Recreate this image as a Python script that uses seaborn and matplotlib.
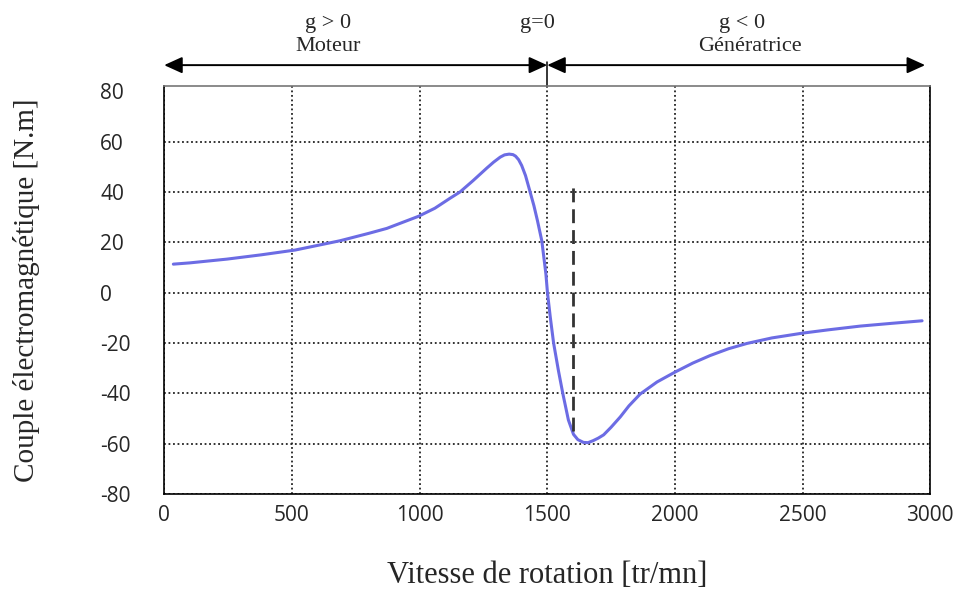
import matplotlib
matplotlib.use("Agg")
import matplotlib.pyplot as plt
import seaborn as sns

# courbe couple / vitesse
speed = [36, 100, 246, 380, 513, 689, 800, 872, 996, 1060, 1120, 1159, 1210, 1264,
         1290, 1316, 1333, 1351, 1366, 1376, 1388, 1400, 1415, 1433, 1448, 1462,
         1479, 1495, 1501, 1512, 1525, 1544, 1561, 1583, 1603, 1620, 1642, 1660,
         1680, 1700, 1721, 1750, 1786, 1820, 1864, 1930, 2000, 2070, 2138, 2210,
         2282, 2380, 2500, 2600, 2726, 2850, 2968]
torque = [11.3, 11.8, 13.3, 15, 16.9, 20.6, 23.5, 25.5, 30.3, 33.5, 37.5, 40, 44.5,
          49.5, 51.8, 53.8, 54.7, 55, 54.8, 54.2, 52.8, 50.5, 46.5, 40, 34.5, 28.5,
          20.5, 7.3, 0, -9.7, -20, -31, -40, -50.6, -56.3, -58.4, -59.5, -59.6,
          -58.8, -57.8, -56.5, -53.5, -49.4, -45, -40.3, -35.5, -31.6, -28, -25,
          -22.3, -20.2, -18, -16.1, -14.8, -13.3, -12.2, -11.2]

x_ticks = [0, 500, 1000, 1500, 2000, 2500, 3000]
y_ticks = [-80, -60, -40, -20, 0, 20, 40, 60, 80]

# zones de fonctionnement (fleches du haut)
regime_edges = [0, 1500, 2980]
regime_top = ["g > 0", "g=0", "g < 0"]
regime_name = ["Moteur", "Génératrice"]

# vitesse de la ligne pointillée
dash_speed = 1600
dash_range = [-55, 43]

sns.set_style("white")
plt.rcParams["font.family"] = ["Open Sans", "DejaVu Sans"]
plt.rcParams["axes.unicode_minus"] = False
serif = ["Liberation Serif", "DejaVu Serif"]

fig = plt.figure(figsize=(9.6, 5.92), dpi=100)
ax = fig.add_axes([0.171, 0.1655, 0.798, 0.689])

sns.lineplot(x=speed, y=torque, ax=ax, color="#6c6ce4", linewidth=2.2)

ax.vlines(dash_speed, dash_range[0], dash_range[1], colors="#333333",
          linewidth=2.0, linestyles=(0, (5, 2.5)), zorder=4)

ax.set_xlim(0, 3000)
ax.set_ylim(-80, 82)
ax.set_xticks(x_ticks)
ax.set_yticks(y_ticks)
ax.tick_params(axis="both", length=0, labelsize=15)
ax.tick_params(axis="x", pad=8)
ax.tick_params(axis="y", pad=46)
for lab in ax.get_yticklabels():
    lab.set_horizontalalignment("left")

ax.grid(True, color="#222222", linestyle=(0, (1, 1.5)), linewidth=1.3)
ax.yaxis.get_gridlines()[-1].set_visible(False)
for s in ax.spines.values():
    s.set_color("black")
    s.set_linewidth(1.2)
ax.spines["top"].set_color("#777777")

ax.set_xlabel("Vitesse de rotation [tr/mn]", family=serif, fontsize=22)
ax.set_ylabel("Couple électromagnétique [N.m]", family=serif, fontsize=21)
ax.xaxis.set_label_coords(0.5, -0.165)
ax.yaxis.set_label_coords(-0.162, 0.5)

# fleches au-dessus du graphe
trans = ax.get_xaxis_transform()
arrow_y = 1.0515
for a, b in zip(regime_edges[:-1], regime_edges[1:]):
    ax.annotate("", xy=(b, arrow_y), xytext=(a, arrow_y), xycoords=trans,
                annotation_clip=False,
                arrowprops=dict(arrowstyle="<|-|>,head_length=0.55,head_width=0.25",
                                mutation_scale=20, shrinkA=0, shrinkB=0,
                                color="black", lw=1.4))
ax.plot([regime_edges[1], regime_edges[1]], [1.0, 1.058], transform=trans,
        color="black", lw=1.1, clip_on=False)

ax.text(640, 1.154, regime_top[0], transform=trans, ha="center", va="center",
        family=serif, fontsize=16)
ax.text(640, 1.096, regime_name[0], transform=trans, ha="center", va="center",
        family=serif, fontsize=16)
ax.text(1461, 1.154, regime_top[1], transform=trans, ha="center", va="center",
        family=serif, fontsize=16)
ax.text(2264, 1.154, regime_top[2], transform=trans, ha="center", va="center",
        family=serif, fontsize=16)
ax.text(2295, 1.096, regime_name[1], transform=trans, ha="center", va="center",
        family=serif, fontsize=16)

fig.savefig("out.png", dpi=100)
